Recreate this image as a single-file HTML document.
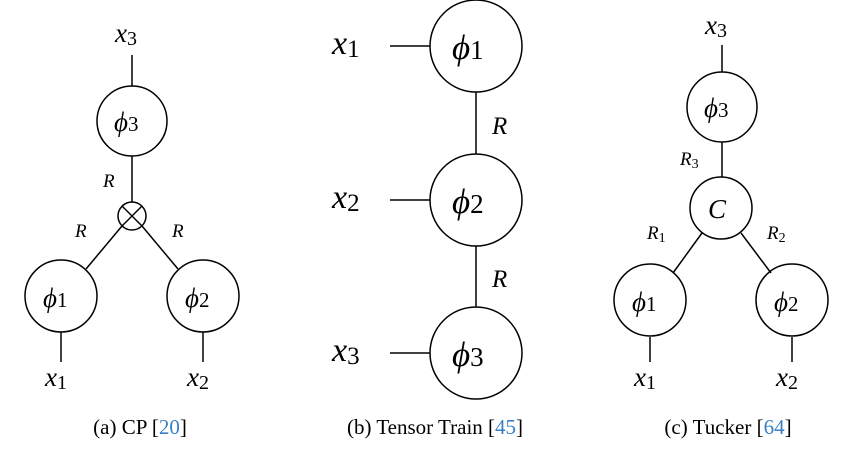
<!DOCTYPE html>
<html><head><style>body{margin:0;background:#fff}svg{display:block}
.m{font-family:"Liberation Serif",serif;font-style:italic;fill:#000}
.c{font-family:"Liberation Serif",serif;font-size:21px;fill:#000}
</style></head><body>
<svg width="863" height="455" viewBox="0 0 863 455" xmlns="http://www.w3.org/2000/svg">
<g stroke="#000" stroke-width="1.5" fill="none">
<line x1="132" y1="55" x2="132" y2="86"/>
<circle cx="132" cy="121" r="35"/>
<line x1="132" y1="156" x2="132" y2="202"/>
<circle cx="132" cy="216" r="14"/>
<line x1="122" y1="206" x2="142" y2="226"/><line x1="142" y1="206" x2="122" y2="226"/>
<line x1="122" y1="226" x2="86" y2="269"/>
<line x1="142" y1="226" x2="178" y2="269"/>
<circle cx="61" cy="296" r="36"/><circle cx="203" cy="296" r="36"/>
<line x1="61" y1="332" x2="61" y2="362"/><line x1="203" y1="332" x2="203" y2="362"/>
<circle cx="476" cy="46" r="46"/><circle cx="476" cy="200" r="46"/><circle cx="476" cy="353" r="46"/>
<line x1="476" y1="92" x2="476" y2="154"/><line x1="476" y1="246" x2="476" y2="307"/>
<line x1="390" y1="46" x2="430" y2="46"/><line x1="390" y1="200" x2="430" y2="200"/><line x1="390" y1="353" x2="430" y2="353"/>
<line x1="722" y1="45" x2="722" y2="72"/>
<circle cx="722" cy="107" r="35"/>
<line x1="722" y1="142" x2="722" y2="177"/>
<circle cx="721" cy="208" r="31"/>
<line x1="702" y1="233" x2="673" y2="273"/>
<line x1="741" y1="233" x2="771" y2="273"/>
<circle cx="650" cy="300" r="36"/><circle cx="792" cy="300" r="36"/>
<line x1="650" y1="337" x2="650" y2="362"/><line x1="792" y1="337" x2="792" y2="362"/>
</g>
<g class="m">
<text x="115" y="42" font-size="27">x<tspan font-style="normal" font-size="20" dy="3">3</tspan></text>
<text x="114" y="131" font-size="27">ϕ<tspan font-style="normal" font-size="21">3</tspan></text>
<text x="103" y="187" font-size="19">R</text>
<text x="75" y="237" font-size="19">R</text>
<text x="172" y="237" font-size="19">R</text>
<text x="43" y="307" font-size="27">ϕ<tspan font-style="normal" font-size="21">1</tspan></text>
<text x="185" y="307" font-size="27">ϕ<tspan font-style="normal" font-size="21">2</tspan></text>
<text x="45" y="386" font-size="27">x<tspan font-style="normal" font-size="20" dy="3">1</tspan></text>
<text x="187" y="386" font-size="27">x<tspan font-style="normal" font-size="20" dy="3">2</tspan></text>

<text x="332" y="54" font-size="34">x<tspan font-style="normal" font-size="25" dy="3">1</tspan></text>
<text x="332" y="208" font-size="34">x<tspan font-style="normal" font-size="25" dy="3">2</tspan></text>
<text x="332" y="361" font-size="34">x<tspan font-style="normal" font-size="25" dy="3">3</tspan></text>
<text x="452" y="59" font-size="35">ϕ<tspan font-style="normal" font-size="27">1</tspan></text>
<text x="452" y="213" font-size="35">ϕ<tspan font-style="normal" font-size="27">2</tspan></text>
<text x="452" y="366" font-size="35">ϕ<tspan font-style="normal" font-size="27">3</tspan></text>
<text x="492" y="134" font-size="25">R</text>
<text x="492" y="287" font-size="25">R</text>

<text x="705" y="34" font-size="27">x<tspan font-style="normal" font-size="20" dy="3">3</tspan></text>
<text x="704" y="117" font-size="27">ϕ<tspan font-style="normal" font-size="21">3</tspan></text>
<text x="680" y="165" font-size="19">R<tspan font-style="normal" font-size="14" dy="3">3</tspan></text>
<text x="708" y="218" font-size="27">C</text>
<text x="647" y="239" font-size="19">R<tspan font-style="normal" font-size="14" dy="3">1</tspan></text>
<text x="767" y="239" font-size="19">R<tspan font-style="normal" font-size="14" dy="3">2</tspan></text>
<text x="632" y="311" font-size="27">ϕ<tspan font-style="normal" font-size="21">1</tspan></text>
<text x="774" y="311" font-size="27">ϕ<tspan font-style="normal" font-size="21">2</tspan></text>
<text x="634" y="386" font-size="27">x<tspan font-style="normal" font-size="20" dy="3">1</tspan></text>
<text x="776" y="386" font-size="27">x<tspan font-style="normal" font-size="20" dy="3">2</tspan></text>
</g>
<text class="c" x="140" y="434" text-anchor="middle">(a) CP [<tspan fill="#3b7fc4">20</tspan>]</text>
<text class="c" x="435" y="434" text-anchor="middle">(b) Tensor Train [<tspan fill="#3b7fc4">45</tspan>]</text>
<text class="c" x="728" y="434" text-anchor="middle">(c) Tucker [<tspan fill="#3b7fc4">64</tspan>]</text>
</svg>
</body></html>
